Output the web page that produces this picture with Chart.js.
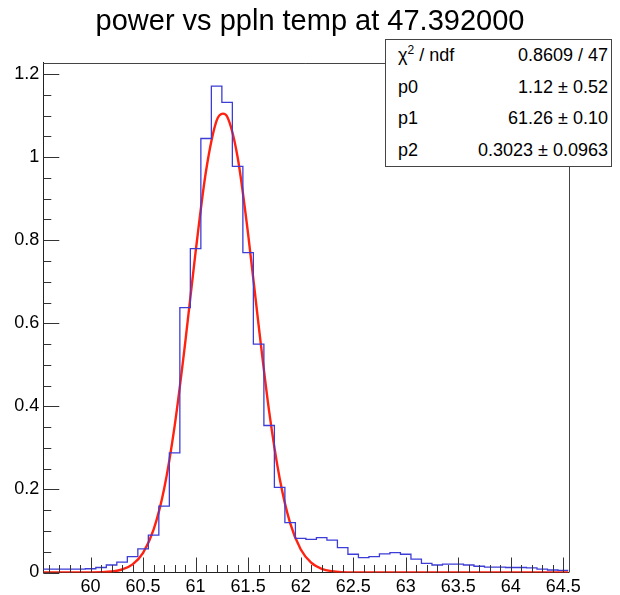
<!DOCTYPE html>
<html lang="en">
<head>
  <meta charset="UTF-8">
  <title>power vs ppln temp at 47.392000</title>
  <style>
    * {
      margin: 0;
      padding: 0;
      box-sizing: border-box;
    }

    body {
      background-color: #fff;
      font-family: "Liberation Sans", Arial, sans-serif;
    }

    .wrap {
      position: relative;
      width: 620px;
      height: 595px;
    }

    /* stats box like ROOT's TPaveStats */
    .stats {
      position: absolute;
      left: 385px;
      top: 39px;
      width: 227px;
      height: 128px;
      background-color: #fff;
      border: 1px solid #444;
      font-size: 18px;
      color: #000;
    }

    .stats .row {
      display: flex;
      justify-content: space-between;
      align-items: center;
      height: 31.5px;
      padding: 0 3px 0 12px;
    }

    .stats sup {
      font-size: 12px;
      vertical-align: 7px;
      line-height: 0;
    }
  </style>
  <script src="https://cdn.jsdelivr.net/npm/chart.js"></script>
</head>
<body>
  <div class="wrap">
    <canvas id="chart" width="620" height="595"></canvas>
    <div class="stats" id="stats"></div>
  </div>

  <script>
    // histogram bins (lower edges) and contents
    const binLowEdges = [
      59.55, 59.65, 59.75, 59.85, 59.95, 60.05, 60.15, 60.25, 60.35, 60.45,
      60.55, 60.65, 60.75, 60.85, 60.95, 61.05, 61.15, 61.25, 61.35, 61.45,
      61.55, 61.65, 61.75, 61.85, 61.95, 62.05, 62.15, 62.25, 62.35, 62.45,
      62.55, 62.65, 62.75, 62.85, 62.95, 63.05, 63.15, 63.25, 63.35, 63.45,
      63.55, 63.65, 63.75, 63.85, 63.95, 64.05, 64.15, 64.25, 64.35, 64.45
    ];
    const histUpperEdge = 64.55;
    const binContents = [
      0.008, 0.008, 0.008, 0.008, 0.009, 0.012, 0.018, 0.025, 0.038, 0.057,
      0.090, 0.160, 0.288, 0.638, 0.780, 1.045, 1.171, 1.132, 0.978, 0.770,
      0.550, 0.354, 0.205, 0.120, 0.082, 0.080, 0.084, 0.078, 0.060, 0.044,
      0.036, 0.038, 0.045, 0.048, 0.044, 0.032, 0.022, 0.018, 0.020, 0.020,
      0.018, 0.015, 0.013, 0.013, 0.012, 0.012, 0.011, 0.008, 0.006, 0.005
    ];

    // fitted gaussian as drawn
    const fitX = [
      59.55, 59.8, 60.0, 60.1, 60.2, 60.3, 60.4, 60.5, 60.6, 60.7, 60.8, 60.9,
      61.0, 61.1, 61.2, 61.26, 61.3, 61.4, 61.5, 61.6, 61.7, 61.8, 61.9, 62.0,
      62.1, 62.2, 62.3, 62.4, 62.6, 64.55
    ];
    const fitY = [
      0, 0, 0.0002, 0.0007, 0.0024, 0.0072, 0.0196, 0.0475, 0.103, 0.201, 0.352, 0.551,
      0.772, 0.968, 1.088, 1.105, 1.098, 1.000, 0.815, 0.595, 0.388, 0.227, 0.119, 0.056,
      0.0236, 0.0089, 0.003, 0.0009, 0, 0
    ];

    const xTicks = [60, 60.5, 61, 61.5, 62, 62.5, 63, 63.5, 64, 64.5];
    const yTicks = [0, 0.2, 0.4, 0.6, 0.8, 1, 1.2];
    const xRange = [59.55, 64.55];
    const yRange = [0, 1.2273];

    const statLabels = ["χ<sup>2</sup> / ndf", "p0", "p1", "p2"];
    const statValues = ["0.8609 / 47", "1.12 ± 0.52", "61.26 ± 0.10", "0.3023 ± 0.0963"];

    document.getElementById("stats").innerHTML = statLabels.map((l, i) =>
      '<div class="row"><span>' + l + '</span><span>' + statValues[i] + '</span></div>'
    ).join("");

    // stepped outline: one point per lower edge plus the closing edge
    const histPoints = binLowEdges.map((x, i) => ({ x: x, y: binContents[i] }));
    histPoints.push({ x: histUpperEdge, y: binContents[binContents.length - 1] });

    const fitPoints = fitX.map((x, i) => ({ x: x, y: fitY[i] }));

    const FONT = "'Liberation Sans', Arial, sans-serif";

    // frame + inward ROOT-style ticks
    const rootFrame = {
      id: "rootFrame",
      afterDraw(chart) {
        const ctx = chart.ctx;
        const a = chart.chartArea;
        const xs = chart.scales.x;
        const ys = chart.scales.y;
        ctx.save();
        ctx.lineWidth = 1;
        ctx.strokeStyle = "#444";
        ctx.beginPath();
        ctx.moveTo(a.left, Math.round(a.top) + 0.5);
        ctx.lineTo(a.right, Math.round(a.top) + 0.5);
        ctx.moveTo(Math.round(a.right) + 0.5, a.top);
        ctx.lineTo(Math.round(a.right) + 0.5, a.bottom);
        ctx.stroke();

        ctx.strokeStyle = "#333";
        ctx.beginPath();
        // x ticks: major 0.5, minor 0.1
        for (let v = 59.6; v < xRange[1]; v += 0.1) {
          const px = Math.round(xs.getPixelForValue(v)) + 0.5;
          const major = xTicks.some(t => Math.abs(t - v) < 1e-6);
          ctx.moveTo(px, a.bottom);
          ctx.lineTo(px, a.bottom - (major ? 15 : 7.5));
        }
        // y ticks: major 0.2, minor 0.05
        for (let v = 0; v < yRange[1]; v += 0.05) {
          const py = Math.round(ys.getPixelForValue(v)) + 0.5;
          const major = yTicks.some(t => Math.abs(t - v) < 1e-6);
          ctx.moveTo(a.left, py);
          ctx.lineTo(a.left + (major ? 16 : 8), py);
        }
        ctx.stroke();
        ctx.restore();
      }
    };

    new Chart(document.getElementById("chart").getContext("2d"), {
      type: "line",
      data: {
        datasets: [
          {
            label: "histogram",
            data: histPoints,
            stepped: "before",
            borderColor: "rgb(60, 60, 215)",
            borderWidth: 1.3,
            pointRadius: 0,
            fill: false
          },
          {
            label: "fit",
            data: fitPoints,
            cubicInterpolationMode: "monotone",
            borderColor: "#ff2210",
            borderWidth: 2.4,
            pointRadius: 0,
            fill: false
          }
        ]
      },
      options: {
        responsive: false,
        animation: false,
        layout: { padding: 0 },
        plugins: {
          legend: { display: false },
          tooltip: { enabled: false },
          title: {
            display: true,
            text: "power vs ppln temp at 47.392000",
            color: "#000",
            font: { family: FONT, size: 29, weight: "normal" },
            padding: { top: 5, bottom: 23 }
          }
        },
        scales: {
          x: {
            type: "linear",
            min: xRange[0],
            max: xRange[1],
            afterBuildTicks: s => { s.ticks = xTicks.map(v => ({ value: v })); },
            afterFit: s => { s.height = 22.5; },
            grid: { display: false, drawTicks: false },
            border: { display: true, color: "#222", width: 1 },
            ticks: {
              color: "#000",
              padding: 4,
              maxRotation: 0,
              autoSkip: false,
              font: { family: FONT, size: 18 },
              callback: v => String(v)
            }
          },
          y: {
            min: yRange[0],
            max: yRange[1],
            afterBuildTicks: s => { s.ticks = yTicks.map(v => ({ value: v })); },
            afterFit: s => { s.width = 43.3; },
            grid: { display: false, drawTicks: false },
            border: { display: true, color: "#222", width: 1 },
            ticks: {
              color: "#000",
              padding: 4,
              autoSkip: false,
              font: { family: FONT, size: 18 },
              callback: v => String(v)
            }
          },
          // empty right margin so the title centres on the whole canvas
          yRight: {
            position: "right",
            min: 0,
            max: 1,
            afterFit: s => { s.width = 51.5; },
            grid: { display: false, drawTicks: false },
            border: { display: false },
            ticks: { display: false }
          }
        }
      },
      plugins: [rootFrame]
    });
  </script>
</body>
</html>
